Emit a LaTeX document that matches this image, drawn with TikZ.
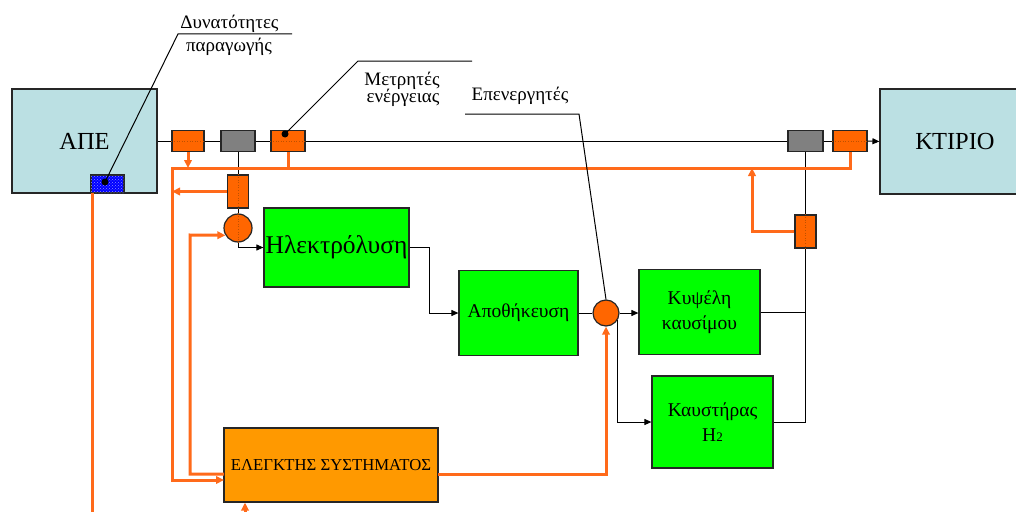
\documentclass[tikz,border=0pt]{standalone}
\usepackage{fontspec}
\setmainfont{Liberation Serif}
\usetikzlibrary{arrows.meta,patterns,calc}
\definecolor{apecol}{RGB}{187,224,227}
\definecolor{boxor}{RGB}{255,102,0}
\definecolor{lineor}{RGB}{255,106,26}
\definecolor{ctrlor}{RGB}{255,153,0}
\definecolor{grncol}{RGB}{0,255,0}
\definecolor{grycol}{RGB}{128,128,128}
\definecolor{dotor}{RGB}{190,80,0}
\begin{document}
\begin{tikzpicture}[x=1pt,y=-1pt,
  blk/.style={draw=black!85,line width=1.2pt,inner sep=0pt},
  bigbox/.style={blk,fill=apecol,font=\fontsize{24.5}{28}\selectfont},
  grnbox/.style={blk,fill=grncol,align=center,font=\fontsize{19.5}{25}\selectfont},
  orbox/.style={blk,fill=boxor},
  grbox/.style={blk,fill=grycol},
  circ/.style={blk,circle,fill=boxor,minimum size=28pt},
  lbl/.style={align=center,inner sep=0pt,anchor=base,font=\fontsize{19}{24}\selectfont},
  bl/.style={draw=black,line width=1pt},
  ol/.style={draw=lineor,line width=3pt},
  ba/.style={-{Triangle[length=7pt,width=6pt]}},
  oa/.style={-{Triangle[length=8pt,width=7.5pt]}},
  dl/.style={draw=dotor,dotted,line width=0.6pt},
  lead/.style={draw=black,line width=1pt}
]
\useasboundingbox (0,0) rectangle (1016,511);
\clip (0,0) rectangle (1016,511);

% big boxes
\node[bigbox,minimum width=145pt,minimum height=104pt] (ape) at (84.5,141) {ΑΠΕ};
\node[bigbox,minimum width=150pt,minimum height=105pt] (kt) at (955,141.5) {ΚΤΙΡΙΟ};
\node[blk,fill=blue,postaction={pattern=crosshatch dots,pattern color=blue!45!white},minimum width=33pt,minimum height=18pt] (blue) at (107.5,184) {};

% boxes on the main line
\node[orbox,minimum width=32pt,minimum height=21pt] (ob1) at (188,141) {};
\node[grbox,minimum width=34pt,minimum height=21pt] (gb1) at (238,141) {};
\node[orbox,minimum width=34pt,minimum height=21pt] (om) at (288,141) {};
\node[grbox,minimum width=35pt,minimum height=21pt] (gb2) at (805.5,141) {};
\node[orbox,minimum width=34pt,minimum height=21pt] (ob3) at (850,141) {};
\node[orbox,minimum width=21pt,minimum height=33pt] (ob2) at (238,191.5) {};
\node[orbox,minimum width=21pt,minimum height=33pt] (ob4) at (805.5,231.5) {};
\node[circ] (c1) at (238,228) {};
\node[circ,minimum size=26pt] (c2) at (606,313) {};

% process boxes
\node[grnbox,minimum width=145pt,minimum height=79pt,font=\fontsize{25.5}{28}\selectfont] (il) at (336.5,247.5) {Ηλεκτρόλυση};
\node[grnbox,minimum width=119pt,minimum height=85pt] (apo) at (518.5,313) {Αποθήκευση};
\node[grnbox,minimum width=121pt,minimum height=85pt] (kuv) at (699.5,312) {Κυψέλη\\καυσίμου};
\node[grnbox,minimum width=121pt,minimum height=92pt] (kaus) at (712.5,422) {Καυστήρας\\H{\fontsize{13}{13}\selectfont 2}};
\node[blk,fill=ctrlor,minimum width=214pt,minimum height=74pt,font=\fontsize{16.7}{18}\selectfont] (elg) at (331,465) {ΕΛΕΓΚΤΗΣ ΣΥΣΤΗΜΑΤΟΣ};

% dotted marks inside orange parts
\draw[dl] (ob1.west) -- (ob1.east);
\draw[dl] (om.west) -- (om.east);
\draw[dl] (ob3.west) -- (ob3.east);
\draw[dl] (ob2.north) -- (ob2.south);
\draw[dl] (ob4.north) -- (ob4.south);
\draw[dl] (c1.north) -- (c1.south);

% main black line
\draw[bl] (ape.east) -- (ob1.west);
\draw[bl] (ob1.east) -- (gb1.west);
\draw[bl] (gb1.east) -- (om.west);
\draw[bl] (om.east) -- (gb2.west);
\draw[bl] (gb2.east) -- (ob3.west);
\draw[bl,ba] (ob3.east) -- (kt.west);

% black process flow
\draw[bl] (gb1.south) -- (ob2.north);
\draw[bl] (ob2.south) -- (c1.north);
\draw[bl,ba] (c1.south) |- (il.west);
\draw[bl,ba] (il.east) -- ++(20,0) |- (apo.west);
\draw[bl] (apo.east) -- (c2.west);
\draw[bl,ba] (c2.east) -- (kuv.west |- c2.east);
\draw[bl,ba] (c2.-32) |- (kaus.west);
\draw[bl] (kuv.east) -- (kuv.east -| ob4.south);
\draw[bl] (kaus.east) -| (ob4.south);
\draw[bl] (ob4.north) -- (gb2.south);

% orange signal lines
\coordinate (busL) at (172,168);
\coordinate (busR) at (752,168);
\coordinate (k2) at (190,235);
\coordinate (elgIn1) at (224,480);
\coordinate (elgIn2) at (224,474);
\coordinate (elgOut) at (438,474);
\coordinate (botStart) at (245,515);
\coordinate (leftTop) at (92.5,193);
\coordinate (leftEnd) at (92.5,515);

\draw[ol,oa] (ob3.south) |- (busL) -- (busL |- elgIn1) -- (elgIn1);
\draw[ol,oa] (ob1.south) -- (ob1.south |- busL);
\draw[ol] (om.south) -- (om.south |- busL);
\draw[ol,oa] (ob2.west) -- (ob2.west -| busL);
\draw[ol,oa] (elgIn2) -| (k2) -- (c1.210);
\draw[ol,oa] (ob4.west) -| (busR);
\draw[ol,oa] (elgOut) -| (c2.south);
\draw[ol,oa] (botStart) -- (elg.south -| botStart);
\draw[ol] (leftTop) -- (leftEnd);

% leaders and labels
\node[lbl] (lab1) at (229.5,29) {Δυνατότητες};
\node[lbl] (lab1b) at (229,52) {παραγωγής};
\fill (105,182) circle (3.5pt);
\coordinate (l1a) at (178,34);
\coordinate (l1b) at (292,34);
\draw[lead] (105,182) -- (l1a) -- (l1b);

\node[lbl] (lab2) at (402,85) {Μετρητές};
\node[lbl] (lab2b) at (403,102) {ενέργειας};
\fill (285,134) circle (3.5pt);
\coordinate (l2a) at (358,61);
\coordinate (l2b) at (472,61);
\draw[lead] (285,134) -- (l2a) -- (l2b);

\node[lbl] (lab3) at (520,100) {Επενεργητές};
\coordinate (l3a) at (465,114);
\coordinate (l3b) at (579,114);
\draw[lead] (l3a) -- (l3b) -- (c2.north);
\end{tikzpicture}
\end{document}
